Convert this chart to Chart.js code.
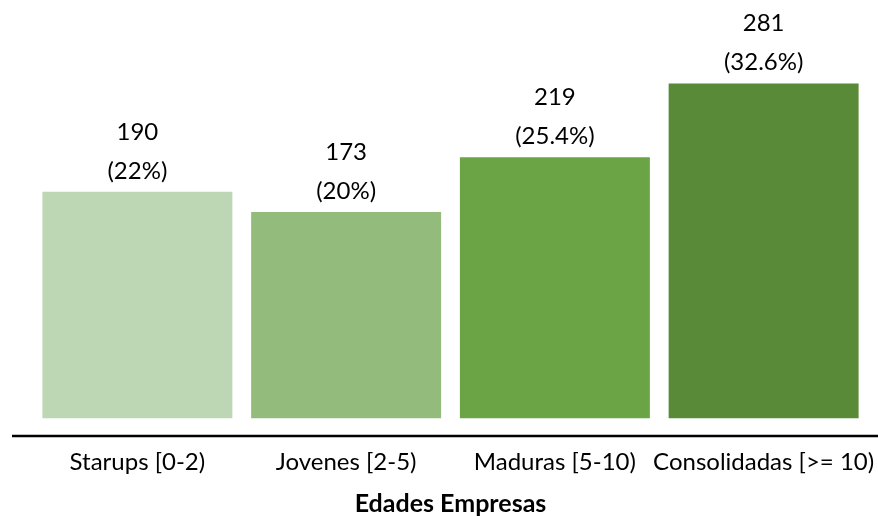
<!DOCTYPE html>
<html>
<head>
<meta charset="utf-8">
<script src="https://cdn.jsdelivr.net/npm/chart.js@4"></script>
<style>
  html, body { margin: 0; padding: 0; background: #fff; }
</style>
</head>
<body>
<canvas id="edadesChart" width="878" height="516"></canvas>
<script>
    // categorías y valores
    const categorias = ["Starups [0-2)", "Jovenes [2-5)", "Maduras [5-10)", "Consolidadas [>= 10)"];
    const empresas = [190, 173, 219, 281];
    const porcentajes = ["22%", "20%", "25.4%", "32.6%"];
    const colores = ["#bdd6b4", "#93bb7b", "#6aa444", "#588a38"];

    const FUENTE = "Lato, 'Open Sans', sans-serif";

    // etiquetas encima de cada barra + línea del eje
    const etiquetasPlugin = {
        id: "etiquetas",
        afterDatasetsDraw(chart) {
            const ctx = chart.ctx;
            const meta = chart.getDatasetMeta(0);
            ctx.save();
            ctx.fillStyle = "#000";
            ctx.font = "24px " + FUENTE;
            ctx.textAlign = "center";
            ctx.textBaseline = "middle";
            meta.data.forEach((bar, i) => {
                ctx.fillText(String(empresas[i]), bar.x, bar.y - 60);
                ctx.fillText("(" + porcentajes[i] + ")", bar.x, bar.y - 21);
            });
            // línea negra del eje
            const y = chart.chartArea.bottom;
            ctx.strokeStyle = "#000";
            ctx.lineWidth = 2.5;
            ctx.beginPath();
            ctx.moveTo(12, y);
            ctx.lineTo(878, y);
            ctx.stroke();
            ctx.restore();
        }
    };

    new Chart(document.getElementById("edadesChart"), {
        type: "bar",
        data: {
            labels: categorias,
            datasets: [{
                data: empresas,
                backgroundColor: colores,
                borderWidth: 0,
                categoryPercentage: 1,
                barPercentage: 0.91
            }]
        },
        options: {
            responsive: false,
            animation: false,
            layout: { padding: { left: 33, right: 10, top: 37, bottom: 0 } },
            plugins: {
                legend: { display: false },
                tooltip: { enabled: false }
            },
            scales: {
                y: {
                    display: false,
                    min: -15,
                    max: 320
                },
                x: {
                    grid: { display: false, drawTicks: false },
                    border: { display: false },
                    afterFit(scale) {
                        scale.height = 80;
                        scale.paddingLeft = 0;
                        scale.paddingRight = 0;
                    },
                    ticks: {
                        color: "#000",
                        padding: 11.6,
                        maxRotation: 0,
                        autoSkip: false,
                        font: { family: FUENTE, size: 24, lineHeight: 1.2 }
                    },
                    title: {
                        display: true,
                        text: "Edades Empresas",
                        color: "#000",
                        font: { family: FUENTE, size: 25, weight: "bold", lineHeight: 1 },
                        padding: { top: 14.6, bottom: 0 }
                    }
                }
            }
        },
        plugins: [etiquetasPlugin]
    });
</script>
</body>
</html>
